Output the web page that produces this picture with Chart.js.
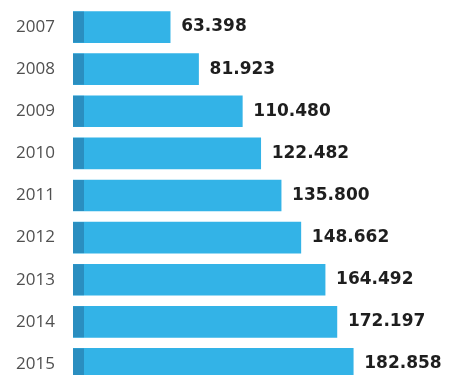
<!DOCTYPE html>
<html>
<head>
<meta charset="utf-8">
<script src="https://cdn.jsdelivr.net/npm/chart.js@4"></script>
<style>
  html, body { margin: 0; padding: 0; background: #fff; overflow: hidden; width: 450px; height: 375px; }
  #wrap { position: absolute; left: 0; top: 0; }
</style>
</head>
<body>
<div id="wrap"><canvas id="barChart" width="450" height="385"></canvas></div>
<script>
// data
const years = ["2007", "2008", "2009", "2010", "2011", "2012", "2013", "2014", "2015"];
const values = [63398, 81923, 110480, 122482, 135800, 148662, 164492, 172197, 182858];

// 63398 -> "63.398"
function formatDot(v) {
  return String(v).replace(/\B(?=(\d{3})+(?!\d))/g, ".");
}

// dark strip at the start of each bar + the value label
const barExtras = {
  id: "barExtras",
  afterDatasetsDraw(chart) {
    const ctx = chart.ctx;
    const meta = chart.getDatasetMeta(0);
    ctx.save();
    meta.data.forEach((bar, i) => {
      const h = bar.height;
      ctx.fillStyle = "#2a8ec0";
      ctx.fillRect(bar.base, bar.y - h / 2, 11, h);
      ctx.fillStyle = "#1e1e1e";
      ctx.font = "bold 17px 'DejaVu Sans'";
      ctx.textAlign = "left";
      ctx.textBaseline = "middle";
      ctx.fillText(formatDot(values[i]), bar.x + 11, bar.y);
    });
    ctx.restore();
  },
};

const ctx = document.getElementById("barChart").getContext("2d");
const myChart = new Chart(ctx, {
  type: "bar",
  data: {
    labels: years,
    datasets: [
      {
        data: values,
        backgroundColor: "#33b3e7",
        borderWidth: 0,
        barThickness: 31,
      },
    ],
  },
  options: {
    indexAxis: "y",
    responsive: false,
    animation: false,
    layout: { padding: { top: 6, right: 0, bottom: 0, left: 0 } },
    plugins: { legend: { display: false }, tooltip: { enabled: false } },
    scales: {
      x: {
        display: false,
        min: 0,
        max: 246000,
      },
      y: {
        grid: { display: false, drawTicks: false },
        border: { display: false },
        ticks: {
          color: "#505050",
          font: { family: "'Open Sans'", size: 17 },
          padding: 18,
        },
        afterFit(scale) {
          // fixed axis width, no extra space above/below
          scale.width = 73;
          scale.paddingTop = 0;
          scale.paddingBottom = 0;
        },
      },
    },
  },
  plugins: [barExtras],
});
</script>
</body>
</html>
